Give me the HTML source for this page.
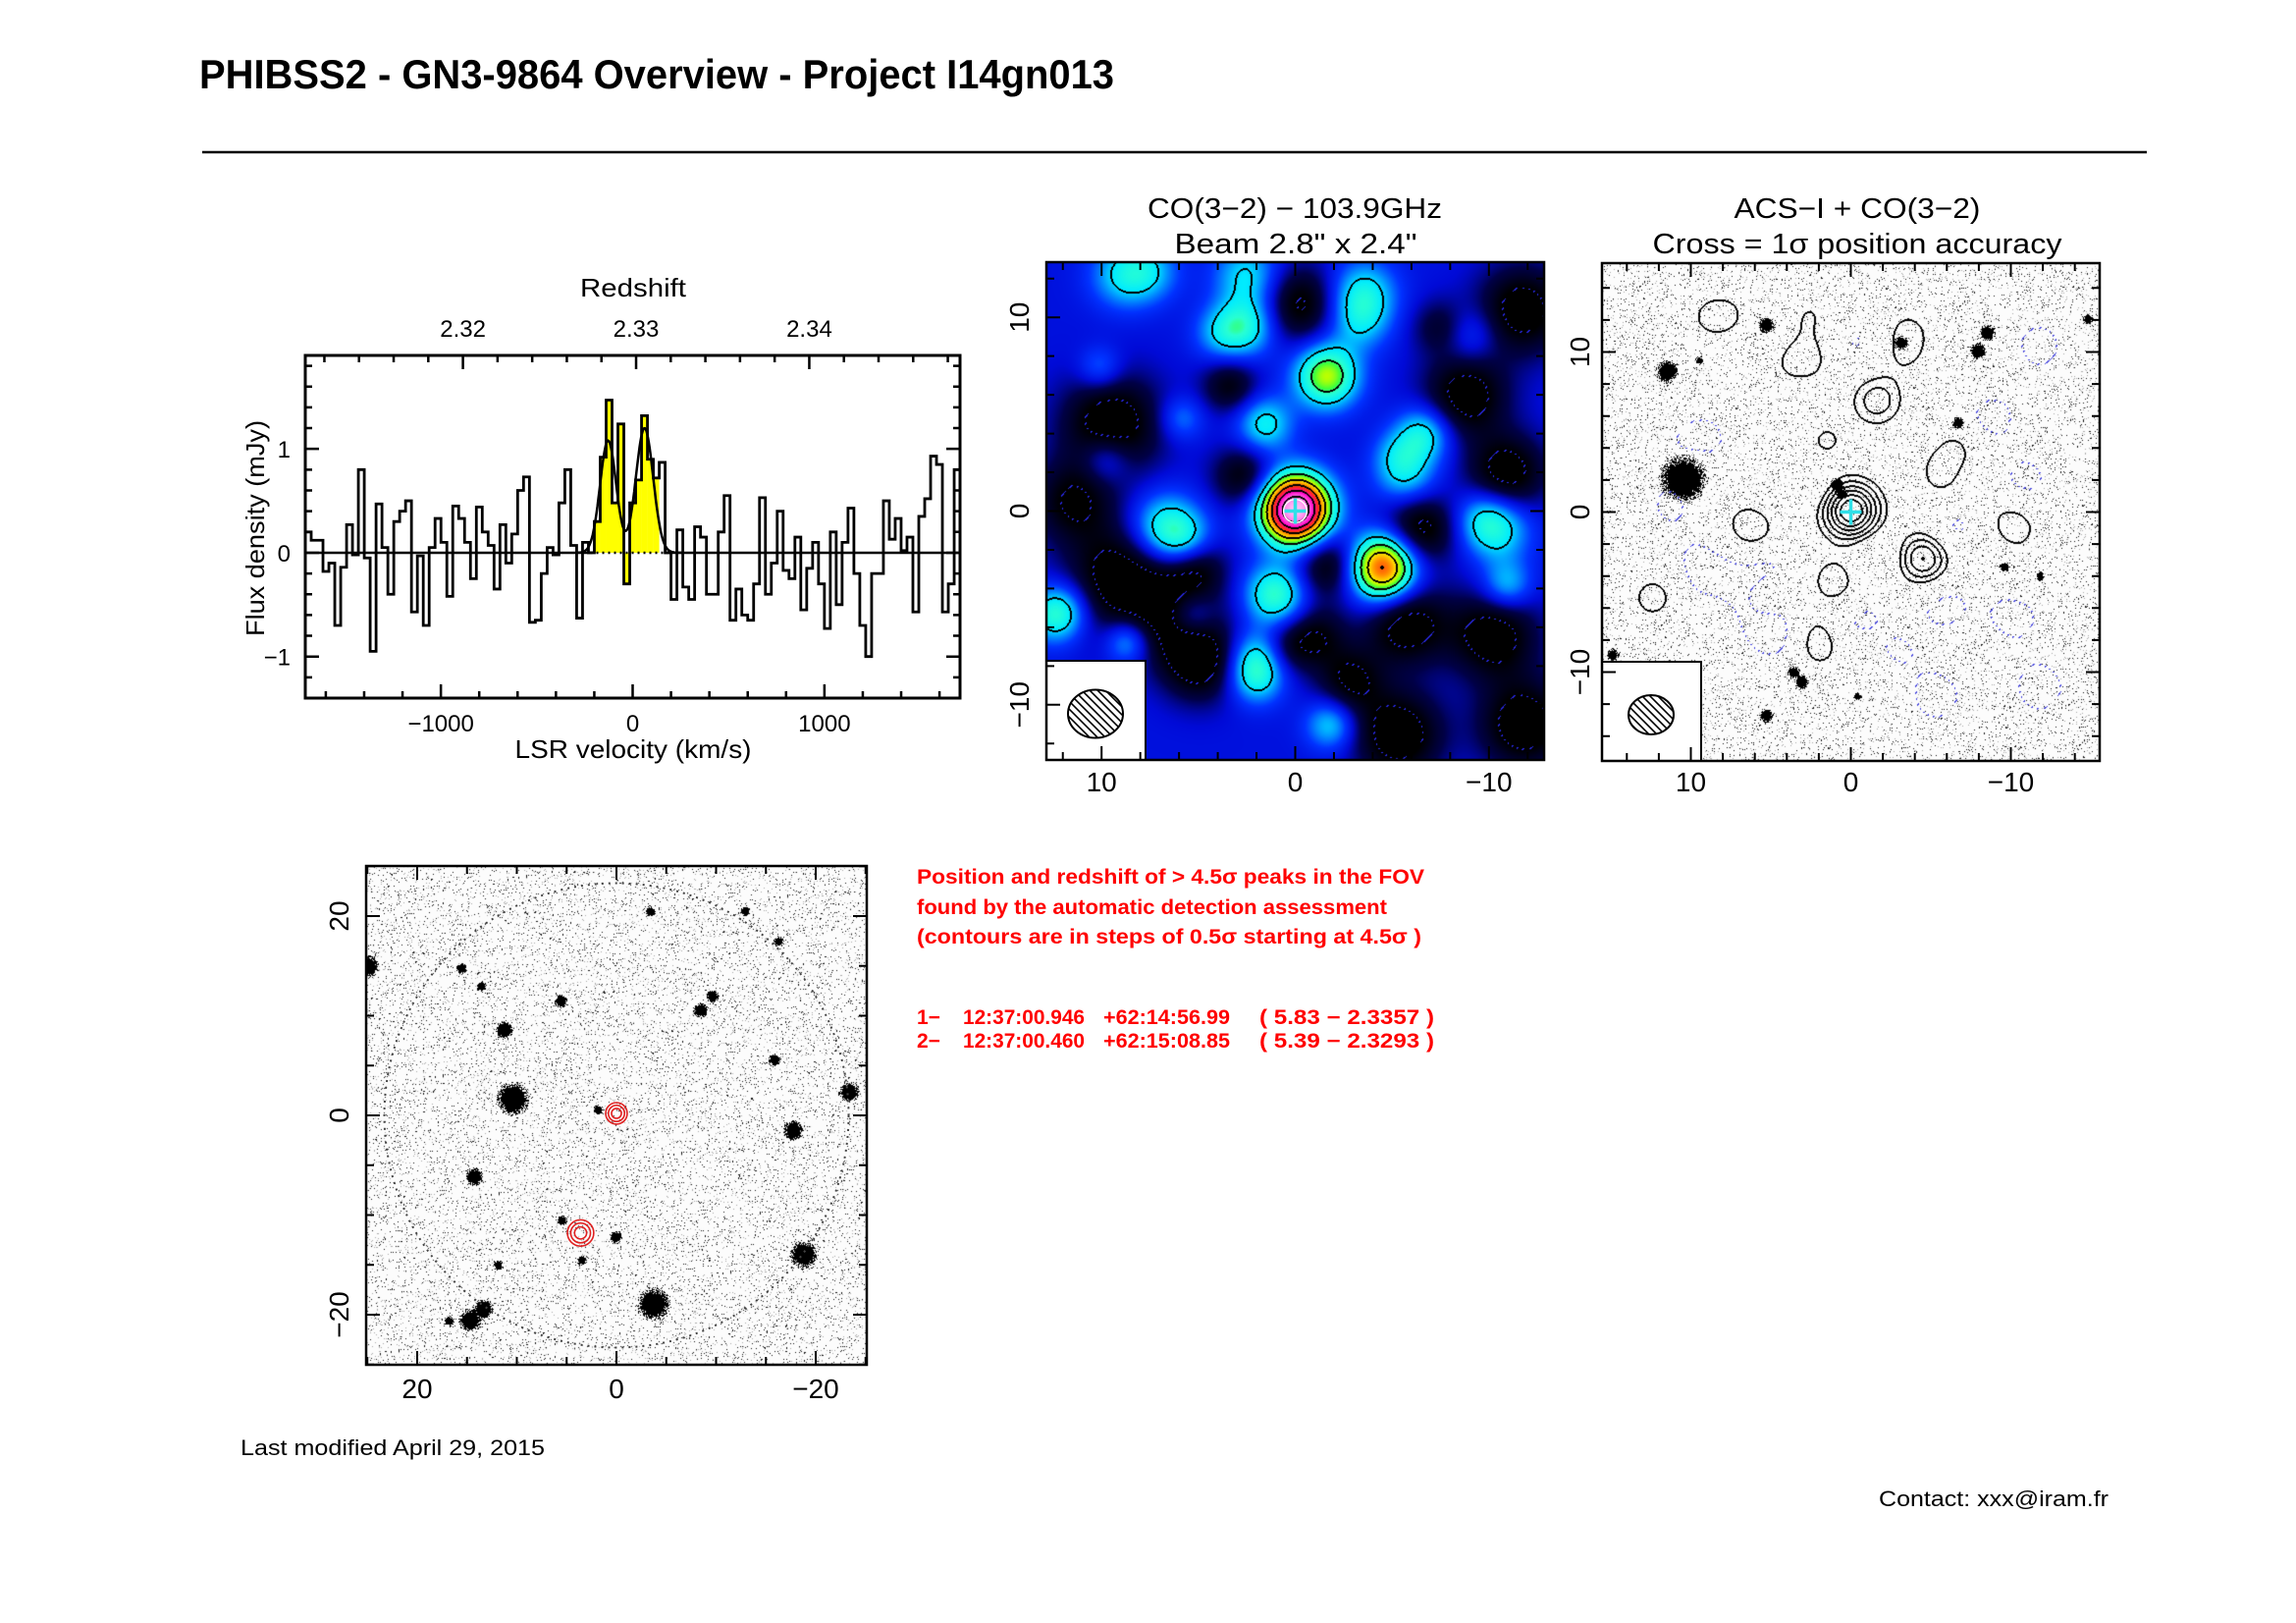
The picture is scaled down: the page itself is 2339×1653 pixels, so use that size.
<!DOCTYPE html>
<html><head><meta charset="utf-8">
<style>
html,body{margin:0;padding:0;background:#fff;}
body{width:2339px;height:1653px;position:relative;overflow:hidden;font-family:"Liberation Sans",sans-serif;}
canvas{position:absolute;}
svg{position:absolute;left:0;top:0;}
</style></head>
<body>
<canvas id="map1" width="507" height="507" style="left:1066px;top:267px"></canvas>
<canvas id="map2" width="507" height="507" style="left:1632px;top:268px"></canvas>
<canvas id="map3" width="510" height="508" style="left:373px;top:882px"></canvas>
<svg id="fig" width="2339" height="1653" viewBox="0 0 2339 1653">
  <text x="203" y="90" font-size="42" font-weight="bold" textLength="932" lengthAdjust="spacingAndGlyphs">PHIBSS2 - GN3-9864 Overview - Project I14gn013</text>
  <line x1="206" y1="155" x2="2187" y2="155" stroke="#000" stroke-width="2.5"/>
  <text x="1319" y="222" font-size="29" text-anchor="middle" textLength="300" lengthAdjust="spacingAndGlyphs">CO(3−2) − 103.9GHz</text>
  <text x="1320" y="258" font-size="29" text-anchor="middle" textLength="247" lengthAdjust="spacingAndGlyphs">Beam 2.8" x 2.4"</text>
  <text x="1892" y="222" font-size="29" text-anchor="middle" textLength="251" lengthAdjust="spacingAndGlyphs">ACS−I + CO(3−2)</text>
  <text x="1892" y="258" font-size="29" text-anchor="middle" textLength="417" lengthAdjust="spacingAndGlyphs">Cross = 1σ position accuracy</text>
  <text x="645" y="302" font-size="26" text-anchor="middle" textLength="108" lengthAdjust="spacingAndGlyphs">Redshift</text>
  <text x="645" y="772" font-size="26" text-anchor="middle" textLength="241" lengthAdjust="spacingAndGlyphs">LSR velocity (km/s)</text>
  <text transform="translate(269,538) rotate(-90)" font-size="26" text-anchor="middle" textLength="220" lengthAdjust="spacingAndGlyphs">Flux density (mJy)</text>
  <g fill="#f00" font-weight="bold" font-size="21">
    <text x="934" y="900" textLength="517" lengthAdjust="spacingAndGlyphs">Position and redshift of &gt; 4.5σ peaks in the FOV</text>
    <text x="934" y="931" textLength="479" lengthAdjust="spacingAndGlyphs">found by the automatic detection assessment</text>
    <text x="934" y="961" textLength="514" lengthAdjust="spacingAndGlyphs">(contours are in steps of 0.5σ starting at 4.5σ )</text>
    <text x="934" y="1043">1−</text>
    <text x="981" y="1043" textLength="124" lengthAdjust="spacingAndGlyphs">12:37:00.946</text>
    <text x="1124" y="1043" textLength="129" lengthAdjust="spacingAndGlyphs">+62:14:56.99</text>
    <text x="1283" y="1043" textLength="178" lengthAdjust="spacingAndGlyphs">( 5.83 − 2.3357 )</text>
    <text x="934" y="1067">2−</text>
    <text x="981" y="1067" textLength="124" lengthAdjust="spacingAndGlyphs">12:37:00.460</text>
    <text x="1124" y="1067" textLength="129" lengthAdjust="spacingAndGlyphs">+62:15:08.85</text>
    <text x="1283" y="1067" textLength="178" lengthAdjust="spacingAndGlyphs">( 5.39 − 2.3293 )</text>
  </g>
  <text x="245" y="1482" font-size="22" textLength="310" lengthAdjust="spacingAndGlyphs">Last modified April 29, 2015</text>
  <text x="1914" y="1534" font-size="22" textLength="234" lengthAdjust="spacingAndGlyphs">Contact: xxx@iram.fr</text>
</svg>
<script>
// ---------- spectrum data ----------
const firstChannelStart = -1707;
const channelWidth = 30.76;
const fluxValues = [0.2,0.12,0.12,-0.18,-0.1,-0.7,-0.14,0.27,-0.02,0.8,-0.05,-0.95,0.47,0.05,-0.4,0.3,0.4,0.5,-0.57,-0.03,-0.7,0.05,0.33,0.1,-0.42,0.45,0.33,0.1,-0.25,0.44,0.2,0.07,-0.35,0.27,-0.1,0.18,0.6,0.73,-0.67,-0.65,-0.2,0.05,-0.02,0.48,0.8,0.07,-0.63,0.1,0.0,0.3,0.92,1.47,0.48,1.24,-0.3,0.48,0.7,1.32,0.9,0.72,0.87,0.0,-0.45,0.22,-0.33,-0.45,0.25,0.15,-0.4,-0.4,0.2,0.55,-0.65,-0.35,-0.6,-0.65,-0.3,0.53,-0.4,-0.1,0.4,-0.17,-0.25,0.15,-0.55,-0.15,0.1,-0.3,-0.73,0.2,-0.5,0.1,0.43,-0.2,-0.7,-1.0,-0.2,-0.2,0.5,0.13,0.33,0.02,0.15,-0.57,0.35,0.52,0.93,0.85,-0.57,-0.3,0.8];
const lineWindow = [-190, 150];
const fitAmp = [1.08, 1.2];
const fitCenter = [-128, 62];
const fitSigma = [42, 45];
const velTicks = [-1000, 0, 1000];
const velTickLabels = ["−1000", "0", "1000"];
const fluxTicks = [-1, 0, 1];
const fluxTickLabels = ["−1", "0", "1"];
const zTicks = [2.32, 2.33, 2.34];
const zTickLabels = ["2.32", "2.33", "2.34"];

// ---------- CO map data (arcsec offsets, sigma units) ----------
const coBase = 0.5;
const blobX =   [0, -4.5, -1.6, 1.6, 6.7, 5.6, 1.05, 2.05, 2.0, 2.5, 2.5, 3.8, -3.5, -3.3, 8.9, 7.5, -6.6, -5.7, -5.2, -10.4, -9.6, -1.8, 12.1, 5.4, 8.7, 10.1, 5.9, -10.9, -9, 9.8, 12.6,
                 9.5, 9, 6, 11.5, -11.7, -8.8, -10.9, -6.4, -1.7, -5.7, -10.2, -5.3, -11.8, -2.8, 4.9, -0.2, 3.4, 2.7, -1.1, 5.2, 0.5, -7.5];
const blobY =   [0.1, -2.9, 7.0, 4.5, -0.9, -1.6, -4.3, -8.5, -7.3, 9.6, 12.2, 9.2, 11.3, 9.8, 12.2, 12.4, 4.0, 1.8, 3.0, -0.9, -0.3, -11.0, -5.1, -5.4, -6.7, 7.4, 4.8, -3.8, 9.1, 2.7, -5.5,
                 4.5, -3.5, -5.5, 0.5, 10.4, 6.0, 2.0, -0.9, -2.7, -5.8, -6.4, -11.5, -11.0, -8.7, -7.8, 10.7, 6.5, 1.8, -6.4, -2.7, -7.0, 9.5];
const blobAmp = [7.6, 5.0, 3.2, 1.8, 2.2, 1.3, 2.4, 1.9, 1.3, 1.8, 1.6, 1.2, 1.7, 1.2, 1.5, 1.1, 1.9, 1.5, 0.8, 1.8, 0.9, 1.6, 1.6, 1.5, 1.5, 1.0, 1.0, 1.5, 0.9, 1.1, 1.0,
                 -1.9, -1.9, -1.6, -1.4, -1.8, -1.8, -1.8, -1.8, -1.6, -1.8, -1.8, -1.9, -1.9, -1.4, -1.7, -1.6, -1.3, -1.4, -1.2, -1.4, -1.0, -1.0];
const blobSig = [1.25, 1.2, 1.15, 1.0, 1.25, 1.0, 1.1, 1.0, 1.0, 1.1, 1.2, 1.0, 1.2, 1.1, 1.2, 1.1, 1.0, 1.1, 0.9, 1.2, 1.0, 0.9, 1.0, 0.9, 0.8, 0.8, 0.8, 0.9, 1.0, 0.9, 1.0,
                 1.8, 1.9, 1.6, 1.5, 1.6, 1.5, 1.4, 1.3, 1.2, 1.5, 1.6, 1.6, 1.6, 1.2, 1.4, 1.4, 1.0, 1.1, 1.1, 1.1, 1.0, 1.0];
const posLevels = [2, 3, 4, 5, 6, 7];
const negLevels = [-0.9, -1.8];

// ---------- optical galaxies (map2, arcsec) ----------
const galX = [10.5, 11.5, 5.3, -3.1, -8.5, -7.9, -6.7, 0.9, 0.6, 5.3, 14.9, -9.6, 3.1, 3.6, -14.8, 9.5, -0.4, -11.8];
const galY = [2.1, 8.8, 11.7, 10.6, 11.2, 10.1, 5.6, 1.7, 1.2, -12.7, -8.9, -3.4, -10.6, -10.0, 12.1, 9.5, -11.5, -4.0];
const galR = [1.15, 0.55, 0.4, 0.35, 0.4, 0.4, 0.3, 0.35, 0.3, 0.35, 0.3, 0.25, 0.35, 0.3, 0.25, 0.2, 0.2, 0.2];

// ---------- FOV map (bottom) ----------
const fovGalX = [10.4, -3.7, -18.8, 14.7, 13.4, -23.3, -17.7, 11.3, 25, 5.6, -8.4, -15.8, -9.6, 1.9, 14.3, 15.6, 13.6, 5.5, -12.9, 3.5, -16.2, 0.1, 16.8, -3.4, 11.9];
const fovGalY = [1.7, -18.9, -13.9, -20.5, -19.4, 2.4, -1.5, 8.6, 15, 11.5, 10.6, 5.6, 12.0, 0.6, -6.1, 14.8, 13.0, -10.5, 20.5, -14.5, 17.5, -12.2, -20.6, 20.5, -15];
const fovGalR = [1.3, 1.3, 1.1, 0.9, 0.8, 0.8, 0.8, 0.7, 0.9, 0.5, 0.6, 0.5, 0.5, 0.4, 0.7, 0.4, 0.4, 0.4, 0.4, 0.4, 0.4, 0.5, 0.4, 0.4, 0.4];
const detX = [0.0, 3.6];
const detY = [0.2, -11.8];
const detRings = [0.55, 0.9, 1.2];
const fovRadius = 23.3;

const NS = "http://www.w3.org/2000/svg";
const svg = document.getElementById('fig');
function mk(tag, attrs, parent) {
  const e = document.createElementNS(NS, tag);
  for (const k in attrs) e.setAttribute(k, attrs[k]);
  (parent || svg).appendChild(e);
  return e;
}

// ---------- spectrum ----------
const SX0 = 311, SX1 = 978, SY0 = 362, SY1 = 711;
const vMin = -1707, vMax = 1707, fMin = -1.4, fMax = 1.9;
const xs = v => SX0 + (v - vMin) / (vMax - vMin) * (SX1 - SX0);
const ys = f => SY1 - (f - fMin) / (fMax - fMin) * (SY1 - SY0);
const zToV = z => 18 + (z - 2.33) * 90300;

const spec = mk('g', {});



fluxValues.forEach((f, i) => {
  const a = firstChannelStart + i * channelWidth, b = a + channelWidth, c = (a + b) / 2;
  if (c < lineWindow[0] || c > lineWindow[1]) return;
  const r = mk('rect', {x: xs(a), y: Math.min(ys(f), ys(0)), width: xs(b) - xs(a), height: Math.abs(ys(f) - ys(0)), fill: '#ffff00'}, spec);
  
  
});
const wa = xs(lineWindow[0] - 30), wb = xs(lineWindow[1] + 15);
const z1 = mk('path', {d: `M${SX0},${ys(0)}H${wa}M${wb},${ys(0)}H${SX1}`, stroke: '#000', 'stroke-width': 2.5, fill: 'none'}, spec);


const z2 = mk('line', {x1: wa, x2: wb, y1: ys(0), y2: ys(0), stroke: '#000', 'stroke-width': 2.5, 'stroke-dasharray': '2,4'}, spec);


let d = '';
fluxValues.forEach((f, i) => {
  const a = firstChannelStart + i * channelWidth, b = a + channelWidth;
  d += (i === 0 ? `M${xs(a)},${ys(f)}` : `V${ys(f)}`) + `H${Math.min(xs(b), SX1)}`;
});
const hist = mk('path', {d, stroke: '#000', 'stroke-width': 2.8, fill: 'none'}, spec);


let fd = '';
for (let v = -300; v <= 260; v += 4) {
  let f = 0;
  for (let k = 0; k < fitAmp.length; k++) f += fitAmp[k] * Math.exp(-((v - fitCenter[k]) ** 2) / (2 * fitSigma[k] ** 2));
  fd += (v === -300 ? 'M' : 'L') + xs(v).toFixed(1) + ',' + ys(f).toFixed(1);
}
const fit = mk('path', {d: fd, stroke: '#000', 'stroke-width': 2.5, fill: 'none'}, spec);


const sf = mk('rect', {x: SX0, y: SY0, width: SX1 - SX0, height: SY1 - SY0, fill: 'none', stroke: '#000', 'stroke-width': 3}, spec);


let td = '';
for (let v = -1600; v <= 1600; v += 200) {
  const L = (v % 1000 === 0) ? 14 : 7;
  td += `M${xs(v)},${SY1}v${-L}`;
}
for (let z = 2.312; z <= 2.3481; z += 0.002) {
  const zr = Math.round(z * 1000) / 1000;
  const L = (Math.round(zr * 1000) % 10 === 0) ? 14 : 7;
  td += `M${xs(zToV(zr))},${SY0}v${L}`;
}
for (let f = -1.2; f <= 1.81; f += 0.2) {
  const fr = Math.round(f * 10) / 10;
  const L = (Math.abs(fr - Math.round(fr)) < 1e-6) ? 14 : 7;
  td += `M${SX0},${ys(fr)}h${L}M${SX1},${ys(fr)}h${-L}`;
}
const st = mk('path', {d: td, stroke: '#000', 'stroke-width': 2.5, fill: 'none'}, spec);


velTicks.forEach((v, i) => {
  const t = mk('text', {x: xs(v), y: 745, 'font-size': 24, 'text-anchor': 'middle'}, spec);
  t.textContent = velTickLabels[i];
  
  
});
zTicks.forEach((z, i) => {
  const t = mk('text', {x: xs(zToV(z)), y: 343, 'font-size': 24, 'text-anchor': 'middle'}, spec);
  t.textContent = zTickLabels[i];
  
  
});
fluxTicks.forEach((f, i) => {
  const t = mk('text', {x: 296, y: ys(f) + 9, 'font-size': 24, 'text-anchor': 'end'}, spec);
  t.textContent = fluxTickLabels[i];
  
  
});

// ---------- maps ----------
function coField(ax, ay) {
  let v = coBase;
  for (let i = 0; i < blobX.length; i++) {
    const dx = ax - blobX[i], dy = ay - blobY[i];
    v += blobAmp[i] * Math.exp(-(dx * dx + dy * dy) / (2 * blobSig[i] * blobSig[i]));
  }
  return v;
}
const stops = [[-0.9,[0,0,0]],[-0.2,[0,0,70]],[0.4,[0,10,215]],[1.0,[0,50,255]],[1.6,[0,150,255]],[2.1,[0,235,255]],[2.8,[40,255,210]],[3.2,[60,255,60]],[3.7,[190,255,0]],[4.2,[255,220,0]],[4.8,[255,130,0]],[5.4,[255,40,30]],[6.2,[255,0,200]],[7.0,[255,110,230]],[8.5,[255,230,255]]];
function cmap(v) {
  if (v <= stops[0][0]) return stops[0][1];
  for (let i = 1; i < stops.length; i++) {
    if (v <= stops[i][0]) {
      const t = (v - stops[i-1][0]) / (stops[i][0] - stops[i-1][0]);
      const a = stops[i-1][1], b = stops[i][1];
      return [a[0] + (b[0]-a[0]) * t, a[1] + (b[1]-a[1]) * t, a[2] + (b[2]-a[2]) * t];
    }
  }
  return stops[stops.length-1][1];
}
function lvlIdx(v) {
  let k = 0;
  for (const L of posLevels) if (v >= L) k++;
  for (const L of negLevels) if (v <= L) k--;
  return k;
}
let seed = 12345;
function rnd() { seed = (seed * 1103515245 + 12345) & 0x7fffffff; return seed / 0x7fffffff; }
function speckle() {
  const r = rnd();
  return r < 0.035 ? 20 : (r < 0.07 ? 170 : 252);
}

function renderMap(canvas, scale, mode) {
  const W = canvas.width, H = canvas.height, cx = W / 2, cy = H / 2;
  const ctx = canvas.getContext('2d');
  const img = ctx.createImageData(W, H);
  const F = new Float32Array(W * H), I = new Int8Array(W * H);
  for (let y = 0; y < H; y++) for (let x = 0; x < W; x++) {
    const v = coField((cx - x) / scale, (cy - y) / scale);
    F[y * W + x] = v; I[y * W + x] = lvlIdx(v);
  }
  for (let y = 0; y < H; y++) for (let x = 0; x < W; x++) {
    const p = y * W + x;
    let c;
    if (mode === 'color') c = cmap(F[p]);
    else {
      const s = speckle();
      c = [s, s, s];
      const ax = (cx - x) / scale, ay = (cy - y) / scale;
      for (let g = 0; g < galX.length; g++) {
        const dd = Math.hypot(ax - galX[g], ay - galY[g]) / galR[g];
        if (dd < 0.8 || (dd < 1.4 && rnd() < (1.4 - dd) / 0.6)) c = [0,0,0];
      }
    }
    const k = I[p];
    let edge = false, neg = false;
    const nb = [x < W-1 ? I[p+1] : k, y < H-1 ? I[p+W] : k, x > 0 ? I[p-1] : k, y > 0 ? I[p-W] : k];
    for (const n of nb) if (n !== k) { edge = true; if (Math.min(n, k) < 0) neg = true; }
    if (edge) {
      if (!neg) c = [0,0,0];
      else if (((x + y) % 7) < 2) c = mode === 'color' ? [40,40,230] : [70,70,220];
    }
    img.data[p*4] = c[0]; img.data[p*4+1] = c[1]; img.data[p*4+2] = c[2]; img.data[p*4+3] = 255;
  }
  ctx.putImageData(img, 0, 0);
}
renderMap(document.getElementById('map1'), 19.73, 'color');
renderMap(document.getElementById('map2'), 16.3, 'gray');

(function () {
  const cv = document.getElementById('map3'), ctx = cv.getContext('2d');
  const W = cv.width, H = cv.height, cx = 255, cy = 254, sc = 10.15;
  const img = ctx.createImageData(W, H);
  for (let y = 0; y < H; y++) for (let x = 0; x < W; x++) {
    const p = y * W + x;
    let c = speckle();
    const ax = (cx - x) / sc, ay = (cy - y) / sc;
    for (let g = 0; g < fovGalX.length; g++) {
      const dd = Math.hypot(ax - fovGalX[g], ay - fovGalY[g]) / fovGalR[g];
      if (dd < 0.8 || (dd < 1.4 && rnd() < (1.4 - dd) / 0.6)) c = 0;
    }
    img.data[p*4] = img.data[p*4+1] = img.data[p*4+2] = c; img.data[p*4+3] = 255;
  }
  ctx.putImageData(img, 0, 0);
})();

function mapAxes(name, x0, y0, w, h, scale, step, major, labelVals, labelText, leftLabelX, bottomLabelY, fs) {
  const g = mk('g', {});
  
  
  const cx = x0 + w / 2, cy = y0 + h / 2, half = w / 2 / scale;
  let td = '';
  for (let a = -Math.floor(half / step) * step; a <= half; a += step) {
    const L = (Math.abs(a % major) < 1e-6) ? 14 : 8;
    const px = cx - a * scale, py = cy - a * scale;
    td += `M${px},${y0 + h}v${-L}M${px},${y0}v${L}M${x0},${py}h${L}M${x0 + w},${py}h${-L}`;
  }
  const t = mk('path', {d: td, stroke: '#000', 'stroke-width': 2, fill: 'none'}, g);
  
  
  const fr = mk('rect', {x: x0, y: y0, width: w, height: h, fill: 'none', stroke: '#000', 'stroke-width': 2.5}, g);
  
  
  labelVals.forEach((a, i) => {
    const bt = mk('text', {x: cx - a * scale, y: bottomLabelY, 'font-size': fs, 'text-anchor': 'middle'}, g);
    bt.textContent = labelText[i];
    
    
    const lt = mk('text', {transform: `translate(${leftLabelX},${cy - a * scale}) rotate(-90)`, 'font-size': fs, 'text-anchor': 'middle'}, g);
    lt.textContent = labelText[i];
    
    
  });
  return g;
}
function beamBox(x0, y1, rx, ry, name) {
  const g = mk('g', {});
  
  
  const b = mk('rect', {x: x0, y: y1 - 101, width: 101, height: 101, fill: '#fff', stroke: '#000', 'stroke-width': 2}, g);
  
  
  const ex = x0 + 50, ey = y1 - 47;
  const id = 'clip' + name;
  const cp = mk('clipPath', {id}, g);
  mk('ellipse', {cx: ex, cy: ey, rx, ry}, cp);
  let hd = '';
  for (let k = -70; k <= 70; k += 8) hd += `M${ex + k - 40},${ey - 40}l80,80`;
  const h = mk('path', {d: hd, stroke: '#000', 'stroke-width': 1.6, 'clip-path': `url(#${id})`}, g);
  
  
  const e = mk('ellipse', {cx: ex, cy: ey, rx, ry, fill: 'none', stroke: '#000', 'stroke-width': 2}, g);
  
  
}
beamBox(1066, 774, 28, 24.5, 'map1-beam');
beamBox(1632, 775, 23, 20, 'map2-beam');
mapAxes('map1-axes', 1066, 267, 507, 507, 19.73, 2, 10, [10, 0, -10], ['10', '0', '−10'], 1048, 806, 28);
mapAxes('map2-axes', 1632, 268, 507, 507, 16.3, 2, 10, [10, 0, -10], ['10', '0', '−10'], 1619, 806, 28);
mapAxes('fov-axes', 373, 882, 510, 508, 10.15, 5, 20, [20, 0, -20], ['20', '0', '−20'], 355, 1424, 28);

[[1319.5, 520.5, 19.73, '#fff'], [1885.5, 521.5, 16.3, null]].forEach(([x, y, s, circ]) => {
  const g = mk('g', {});
  
  
  if (circ) mk('circle', {cx: x, cy: y, r: 0.6 * s, fill: 'none', stroke: circ, 'stroke-width': 1.5}, g);
  mk('path', {d: `M${x - 11},${y}h22M${x},${y - 13}v26`, stroke: '#30e0e8', 'stroke-width': 3.5}, g);
});

const fcx = 628, fcy = 1136, fsc = 10.15;
const fc = mk('circle', {cx: fcx, cy: fcy, r: fovRadius * fsc, fill: 'none', stroke: '#444', 'stroke-width': 2, 'stroke-dasharray': '2,5'});


detX.forEach((dx, i) => {
  const g = mk('g', {});
  
  
  detRings.forEach(r => mk('circle', {cx: fcx - dx * fsc, cy: fcy - detY[i] * fsc, r: r * fsc * (i === 1 ? 1.1 : 0.9), fill: 'none', stroke: '#e02020', 'stroke-width': 1.6}, g));
});
</script>
</body></html>
